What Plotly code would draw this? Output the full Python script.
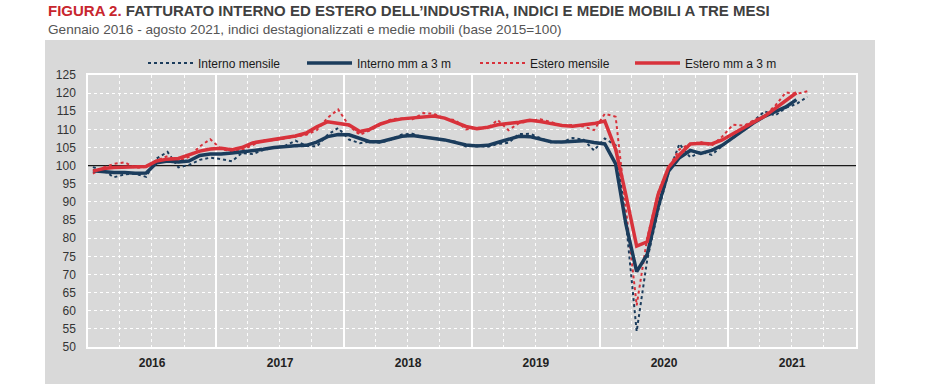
import pandas as pd
import plotly.graph_objects as go

# ---- data (Jan 2016 - Aug 2021, monthly) ----
months = pd.date_range("2016-01-01", periods=68, freq="MS") + pd.Timedelta(days=14)

interno_mensile = [
    99.6, 98.6, 96.8, 97.6, 97.8, 96.9, 102.0, 103.8, 99.5, 100.2, 101.6, 102.2,
    101.8, 101.2, 103.5, 103.2, 104.3, 105.0, 105.4, 106.9, 105.5, 105.3, 108.5, 110.4,
    107.2, 106.2, 106.6, 106.3, 107.2, 108.6, 108.8, 107.8, 107.6, 107.2, 106.6, 105.3,
    105.6, 105.2, 106.0, 106.3, 108.7, 108.8, 107.6, 106.4, 106.5, 107.6, 107.2, 104.2,
    107.5, 105.6, 85.0, 54.3, 74.0, 87.5, 98.0, 106.0, 102.3, 103.8, 103.0, 105.4,
    107.6, 109.8, 112.3, 115.0, 113.8, 116.0, 117.0, 119.0,
]
estero_mensile = [
    97.8, 99.5, 100.5, 100.9, 99.4, 99.6, 101.5, 102.6, 101.2, 102.4, 105.3, 107.3,
    104.6, 103.9, 104.3, 105.6, 107.0, 107.0, 107.4, 108.0, 108.5, 109.8, 113.2, 115.5,
    111.0, 108.5, 109.7, 111.3, 112.8, 113.0, 112.8, 114.5, 114.3, 113.0, 112.5, 110.0,
    110.5, 110.3, 112.6, 109.8, 111.7, 112.3, 112.8, 112.0, 111.0, 111.2, 110.8, 109.8,
    114.3, 113.5, 88.0, 61.5, 80.0, 92.5, 99.5, 104.5, 106.0, 106.5, 105.5, 108.0,
    111.3, 111.0, 112.5, 113.8, 116.5, 120.2, 119.8, 120.5,
]
# centred 3-month moving averages (Jan 2016 - Jul 2021)
interno_mm3 = [
    98.6, 98.3, 98.1, 98.1, 97.9, 98.0, 100.8, 101.3, 101.0, 101.3, 102.8, 103.2,
    103.2, 103.5, 103.8, 104.1, 104.5, 105.0, 105.3, 105.5, 105.6, 106.5, 108.0, 108.6,
    108.5, 107.5, 106.6, 106.6, 107.3, 108.1, 108.3, 108.0, 107.5, 107.1, 106.4, 105.7,
    105.4, 105.6, 106.4, 107.3, 108.1, 108.0, 107.2, 106.6, 106.5, 106.7, 106.9, 106.4,
    106.0, 100.5, 84.0, 70.8, 75.5, 88.5, 98.5, 102.2, 104.2, 103.4, 104.2, 105.6,
    107.7, 109.7, 111.8, 113.6, 114.8, 116.2, 118.2,
]
estero_mm3 = [
    98.5, 99.2, 99.5, 99.6, 99.6, 99.8, 101.3, 101.8, 102.0, 102.9, 104.0, 104.6,
    104.8, 104.4, 105.0, 106.3, 106.8, 107.2, 107.7, 108.2, 109.0, 110.7, 112.1, 111.6,
    111.2, 109.4, 110.0, 111.5, 112.4, 112.9, 113.2, 113.6, 113.7, 113.1, 112.0, 110.8,
    110.2, 110.6, 111.3, 111.6, 112.0, 112.5, 112.2, 111.6, 111.1, 110.9, 111.3, 111.6,
    112.3, 104.5, 92.0, 77.8, 79.0, 92.0, 99.5, 103.0, 106.0, 106.2, 106.0, 107.1,
    108.8, 110.6, 112.0, 113.6, 115.7, 117.9, 120.1,
]

BLUE = "#1b3c5c"
RED = "#d8323b"
PANEL = "#d9d9d9"
FONT = "Liberation Sans, Arial, sans-serif"

fig = go.Figure()
fig.add_trace(go.Scatter(x=months, y=interno_mensile, name="Interno mensile", mode="lines",
                         line=dict(color=BLUE, width=2, dash="dot"), showlegend=True))
fig.add_trace(go.Scatter(x=months, y=estero_mensile, name="Estero mensile", mode="lines",
                         line=dict(color=RED, width=2, dash="dot"), legend="legend3"))
fig.add_trace(go.Scatter(x=months[:len(interno_mm3)], y=interno_mm3, name="Interno mm a 3 m", mode="lines",
                         line=dict(color=BLUE, width=3.5), legend="legend2"))
fig.add_trace(go.Scatter(x=months[:len(estero_mm3)], y=estero_mm3, name="Estero mm a 3 m", mode="lines",
                         line=dict(color=RED, width=3.5), legend="legend4"))

# plot area: x 88..856, y 75..347 (page pixels)
L, R, T, B = 88, 856, 75, 347
W, H = R - L, B - T

def px(x):
    return (x - L) / W

def py(y):
    return (B - y) / H

# grey panel
fig.add_shape(type="rect", xref="paper", yref="paper", x0=px(45), x1=px(875), y0=py(384), y1=py(40),
              fillcolor=PANEL, line_width=0, layer="below")
# reference line at 100
fig.add_shape(type="line", xref="x", yref="y", x0="2016-01-01", x1="2022-01-01", y0=100, y1=100,
              line=dict(color="#1a1a1a", width=1.2), layer="between")

leg_common = dict(orientation="h", font=dict(family=FONT, size=12, color="#1a1a1a"),
                  bgcolor="rgba(0,0,0,0)", yanchor="middle", xanchor="left", y=py(63),
                  itemwidth=45)

fig.update_layout(
    width=948, height=391,
    margin=dict(l=L, r=948 - R, t=T, b=391 - B),
    paper_bgcolor="white", plot_bgcolor="rgba(0,0,0,0)",
    font=dict(family=FONT, color="#333333"),
    showlegend=True,
    legend=dict(x=px(158 - 15), **leg_common),
    legend2=dict(x=px(317 - 15), **leg_common),
    legend3=dict(x=px(490 - 15), **leg_common),
    legend4=dict(x=px(645 - 15), **leg_common),
    annotations=[
        dict(xref="paper", yref="paper", x=px(46), y=py(11), xanchor="left", yanchor="middle",
             showarrow=False, align="left",
             text="<b><span style='color:#c8262e'>FIGURA 2.</span> FATTURATO INTERNO ED ESTERO DELL\u2019INDUSTRIA, INDICI E MEDIE MOBILI A TRE MESI</b>",
             font=dict(family=FONT, size=15, color="#404040")),
        dict(xref="paper", yref="paper", x=px(46), y=py(30), xanchor="left", yanchor="middle",
             showarrow=False, align="left",
             text="Gennaio 2016 - agosto 2021, indici destagionalizzati e medie mobili (base 2015=100)",
             font=dict(family=FONT, size=13.6, color="#555555")),
    ],
)

fig.update_xaxes(
    type="date", range=["2016-01-01", "2022-01-01"],
    tick0="2016-01-01", dtick="M12", tickformat="%Y", ticklabelmode="period",
    showgrid=True, gridcolor="white", gridwidth=2,
    minor=dict(dtick="M3", showgrid=True, gridcolor="rgba(255,255,255,0.9)", griddash="dot", gridwidth=1),
    showline=True, linecolor="white", linewidth=2, mirror=True,
    ticks="", ticklabelstandoff=4,
    tickfont=dict(family=FONT, size=12, color="#222222", weight="bold"),
    zeroline=False,
)
fig.update_yaxes(
    range=[50, 125], dtick=5, tick0=50,
    showgrid=True, gridcolor="white", gridwidth=1, griddash="dot",
    showline=True, linecolor="white", linewidth=1.5, mirror=True,
    ticks="", ticklabelstandoff=8, tickfont=dict(family=FONT, size=12, color="#333333"),
    zeroline=False,
)

fig.write_html("out.html", config={"displayModeBar": False},
               post_script="document.body.style.margin='0';document.body.style.padding='0';")
